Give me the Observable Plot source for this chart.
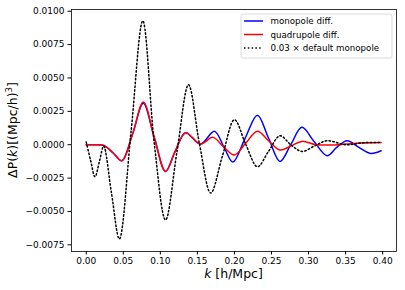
<!DOCTYPE html>
<html><head><meta charset="utf-8">
<script src="https://cdn.jsdelivr.net/npm/d3@7"></script>
<script src="https://cdn.jsdelivr.net/npm/@observablehq/plot@0.6"></script>
<style>body{margin:0;background:#fff}</style>
</head><body><div id="chart"></div>
<script>
// k [h/Mpc] and values
const kDotted = [0.000,0.006,0.0118,0.018,0.0235,0.034,0.0447,0.0605,0.0763,0.092,0.107,0.1225,0.138,0.153,0.168,0.184,0.200,0.2155,0.231,0.246,0.2615,0.276,0.291,0.308,0.325,0.35,0.375,0.398];
const defaultMono = [0.0002,-0.0012,-0.0024,-0.0012,-0.0001,-0.0036,-0.00706,0.0010,0.00928,0.0000,-0.00564,-0.0005,0.00449,0.0000,-0.00362,-0.0008,0.00187,0.0000,-0.00165,-0.0005,0.00067,0.0000,-0.0005,-0.0001,0.0003,0.0000,0.00015,0.00017];

const kBlue = [0.000,0.010,0.0235,0.036,0.048,0.0625,0.077,0.092,0.107,0.120,0.134,0.154,0.173,0.186,0.198,0.2145,0.231,0.246,0.2615,0.276,0.291,0.308,0.325,0.338,0.352,0.368,0.3835,0.398];
const monoDiff = [0.0000,0.0000,-0.00005,-0.0006,-0.0012,0.0008,0.0031,0.0005,-0.0020,-0.0005,0.0009,0.00005,0.0010,-0.0002,-0.0013,0.0005,0.0022,0.0005,-0.00125,0.0000,0.0013,0.0002,-0.00082,-0.0002,0.0003,-0.0002,-0.00065,-0.00045];

const kRed = [0.000,0.010,0.0235,0.036,0.048,0.0625,0.077,0.092,0.107,0.120,0.134,0.154,0.171,0.186,0.200,0.215,0.231,0.246,0.2615,0.276,0.291,0.310,0.330,0.350,0.370,0.398];
const quadDiff = [0.0000,0.0000,-0.00005,-0.0006,-0.0012,0.0008,0.0032,0.0005,-0.0020,-0.0005,0.0009,0.00005,0.00055,-0.0002,-0.00077,0.0001,0.0010,0.0003,-0.0004,-0.0001,0.00025,0.0000,-0.00002,0.00005,0.00012,0.00017];

const xTicks = [0,0.05,0.10,0.15,0.20,0.25,0.30,0.35,0.40];
const yTicks = [-0.0075,-0.0050,-0.0025,0,0.0025,0.0050,0.0075,0.0100];
const legendLabels = ["monopole diff.","quadrupole diff.","0.03 \u00d7 default monopole"];

const dotted = kDotted.map((k,i)=>({k, v: defaultMono[i]}));
const blue = kBlue.map((k,i)=>({k, v: monoDiff[i]}));
const red = kRed.map((k,i)=>({k, v: quadDiff[i]}));

const chart = Plot.plot({
  width: 405, height: 290,
  marginLeft: 71, marginRight: 9, marginTop: 9, marginBottom: 39,
  style: {fontFamily: "DejaVu Sans", fontSize: "9px", background: "#fff", color: "#000"},
  x: {domain: [-0.0199, 0.4187]},
  y: {domain: [-0.0080, 0.01013]},
  marks: [
    Plot.line(blue, {x: "k", y: "v", stroke: "#0000ff", strokeWidth: 1.5, curve: "catmull-rom"}),
    Plot.line(red, {x: "k", y: "v", stroke: "#ff0000", strokeWidth: 1.5, curve: "catmull-rom"}),
    Plot.line(dotted, {x: "k", y: "v", stroke: "#000", strokeWidth: 1.5, strokeDasharray: "1.5,2.3", curve: "catmull-rom"}),
    Plot.frame({stroke: "#000", strokeWidth: 0.8}),
    Plot.axisX({ticks: xTicks, tickFormat: d3.format(".2f"), tickSize: 3.5, tickPadding: 2.5, label: null}),
    Plot.axisY({ticks: yTicks, tickFormat: d3.format(".4f"), tickSize: 3.5, tickPadding: 3.5, label: null})
  ]
});
document.getElementById("chart").append(chart);

const svg = d3.select(chart);
// axis labels
const xl = svg.append("text").attr("x", 233.5).attr("y", 278).attr("text-anchor", "middle")
  .attr("font-family", "DejaVu Sans").attr("font-size", "12.5px").attr("fill", "#000");
xl.append("tspan").attr("font-style", "italic").text("k");
xl.append("tspan").text(" [h/Mpc]");

const yl = svg.append("text").attr("transform", "translate(17,130) rotate(-90)").attr("text-anchor", "middle")
  .attr("font-family", "DejaVu Sans").attr("font-size", "12.5px").attr("fill", "#000");
yl.append("tspan").text("\u0394P(");
yl.append("tspan").attr("font-style", "italic").text("k");
yl.append("tspan").text(")[(Mpc/h)");
yl.append("tspan").attr("font-size", "8.5px").attr("dy", "-5").text("3");
yl.append("tspan").attr("dy", "5").text("]");

// legend
const lg = svg.append("g").attr("text-anchor", "start");
lg.append("rect").attr("x", 241).attr("y", 14).attr("width", 151).attr("height", 44).attr("rx", 2)
  .attr("fill", "#fff").attr("fill-opacity", 0.8).attr("stroke", "#d0d0d0").attr("stroke-width", 0.8);
const styles = [{c: "#0000ff", d: null}, {c: "#ff0000", d: null}, {c: "#000", d: "1.5,2.3"}];
const rowsY = [21, 34.5, 48];
legendLabels.forEach((t, i) => {
  const l = lg.append("line").attr("x1", 244).attr("x2", 263).attr("y1", rowsY[i]).attr("y2", rowsY[i])
    .attr("stroke", styles[i].c).attr("stroke-width", 1.5);
  if (styles[i].d) l.attr("stroke-dasharray", styles[i].d);
  lg.append("text").attr("x", 270.5).attr("y", rowsY[i] + 3.2).attr("text-anchor", "start").attr("font-family", "DejaVu Sans")
    .attr("font-size", "8.7px").attr("fill", "#000").text(t);
});
</script>
</body></html>
